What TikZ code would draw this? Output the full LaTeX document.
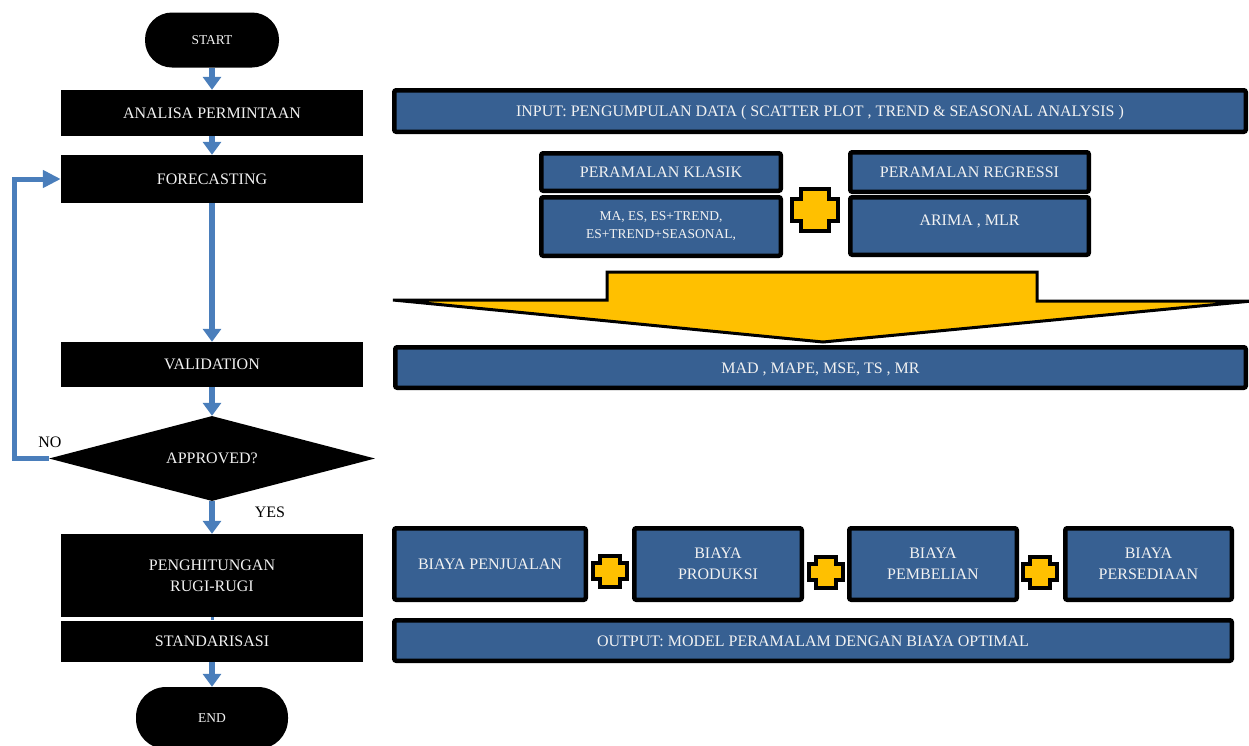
\documentclass[tikz,border=0pt]{standalone}
\usepackage{fontspec}
\setmainfont{Liberation Serif}
\usetikzlibrary{arrows.meta,shapes.geometric}

\definecolor{flowblue}{RGB}{74,126,187}
\definecolor{boxblue}{RGB}{55,96,146}
\definecolor{plusyellow}{RGB}{255,192,0}
\definecolor{paletext}{RGB}{242,242,242}

\tikzset{
  flowbox/.style={fill=black, text=paletext, minimum width=302pt, minimum height=45pt,
    inner sep=0pt, align=center, font=\fontsize{16}{21}\selectfont},
  terminal/.style={fill=black, text=paletext, rounded corners=27pt, inner sep=0pt,
    font=\fontsize{13.5}{16}\selectfont},
  bluebox/.style={fill=boxblue, draw=black, line width=4.5pt, rounded corners=2pt,
    text=paletext, inner sep=0pt, align=center, font=\fontsize{16}{21}\selectfont},
  oneline/.style={text height=11pt, text depth=0pt},
  flowarrow/.style={draw=flowblue, line width=6pt, -{Triangle[width=18pt,length=13pt]}},
  loopback/.style={draw=flowblue, line width=5pt, -{Triangle[width=17pt,length=18pt]}},
  plusshape/.style={fill=plusyellow, draw=black, line width=4pt},
  label/.style={inner sep=0pt, font=\fontsize{16}{19}\selectfont}
}

% yellow plus sign, #1 centre, #2 size factor
\newcommand{\plusblock}[2]{%
  \draw[plusshape, shift={(#1)}, scale=#2] (-10,-15.5) -- (10,-15.5) -- (10,-8) -- (17,-8)
    -- (17,8) -- (10,8) -- (10,15.5) -- (-10,15.5) -- (-10,8) -- (-17,8) -- (-17,-8)
    -- (-10,-8) -- cycle;}

\begin{document}
\begin{tikzpicture}[x=1pt,y=-1pt]
\useasboundingbox (0,0) rectangle (1249,745);

%Flow chart, left column
\node[terminal, minimum width=134pt, minimum height=55pt] (start) at (212,40) {START};
\node[flowbox, minimum height=46pt] (analisa) at (212,113) {ANALISA PERMINTAAN};
\node[flowbox, minimum height=48pt] (fore) at (212,179) {FORECASTING};
\node[flowbox] (valid) at (212,364.5) {VALIDATION};
\node[diamond, aspect=3.8, fill=black, text=paletext, inner sep=0pt, minimum width=326pt,
  minimum height=85pt, font=\fontsize{16}{19}\selectfont] (approved) at (212,458.5) {APPROVED?};
\node[flowbox, minimum height=83pt] (pengh) at (212,575.5) {PENGHITUNGAN\\RUGI-RUGI};
\node[flowbox, oneline, minimum height=41pt] (stand) at (212,641) {STANDARISASI};
\node[terminal, minimum width=152pt, minimum height=62pt, rounded corners=30pt] (end) at (212,718) {END};

% Text Node
\node[label] (lblno) at (50,442) {NO};
% Text Node
\node[label] (lblyes) at (270,512) {YES};

%Arrows
\draw[flowarrow] (start) -- (analisa);
\draw[flowarrow] (analisa) -- (fore);
\draw[flowarrow] (fore) -- (valid);
\draw[flowarrow] (valid) -- (approved);
\draw[flowarrow] (approved) -- (pengh);
\draw[draw=flowblue, line width=3pt] (pengh) -- (stand);
\draw[flowarrow] (stand) -- (end);
\draw[loopback] (approved.west) -- ++(-34,0) |- (fore.west);

%Input and methods
\node[bluebox, oneline, minimum width=851.5pt, minimum height=41.5pt] (input) at (820,111)
  {INPUT: PENGUMPULAN DATA ( SCATTER PLOT , TREND \& SEASONAL ANALYSIS )};
\node[bluebox, oneline, minimum width=239.5pt, minimum height=37.5pt] (klasik) at (661,172) {PERAMALAN KLASIK};
\node[bluebox, minimum width=239.5pt, minimum height=58.5pt, font=\fontsize{13.5}{18}\selectfont]
  (maes) at (661,226.5) {MA, ES, ES+TREND,\\ES+TREND+SEASONAL,};
\node[bluebox, oneline, minimum width=238.5pt, minimum height=39.5pt] (regresi) at (969.5,172) {PERAMALAN REGRESSI};
\node[bluebox, minimum width=238.5pt, minimum height=57.5pt, text depth=12pt] (arima) at (969.5,226) {ARIMA , MLR};
\plusblock{815,210}{1.38}

%Shape: big yellow arrow
\draw[fill=plusyellow, draw=black, line width=3pt] (393,300) -- (607,300) -- (607,272) -- (1037,272)
  -- (1037,301) -- (1252,301) -- (823,342) -- cycle;

\node[bluebox, oneline, minimum width=850.5pt, minimum height=40.5pt] (mad) at (820.5,367.5) {MAD , MAPE, MSE, TS , MR};

%Costs and output
\node[bluebox, oneline, minimum width=191.5pt, minimum height=71.5pt] (penjualan) at (490,564) {BIAYA PENJUALAN};
\node[bluebox, minimum width=167.5pt, minimum height=71.5pt] (produksi) at (718,564) {BIAYA\\PRODUKSI};
\node[bluebox, minimum width=167.5pt, minimum height=71.5pt] (pembelian) at (933,564) {BIAYA\\PEMBELIAN};
\node[bluebox, minimum width=166.5pt, minimum height=71.5pt] (persediaan) at (1148.5,564) {BIAYA\\PERSEDIAAN};
\foreach \px/\py in {610/571,826/572,1040/572}
  \plusblock{\px,\py}{1};
\node[bluebox, oneline, minimum width=837.5pt, minimum height=40.5pt] (output) at (813,640.5)
  {OUTPUT: MODEL PERAMALAM DENGAN BIAYA OPTIMAL};

\end{tikzpicture}
\end{document}
